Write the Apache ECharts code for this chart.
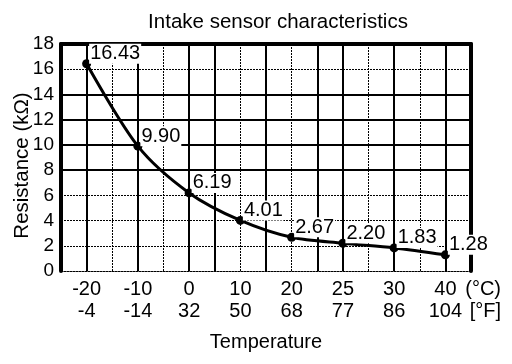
<!DOCTYPE html>
<html>
<head>
<meta charset="utf-8">
<script src="https://cdn.jsdelivr.net/npm/echarts@6/dist/echarts.min.js"></script>
<style>html,body{margin:0;padding:0;background:#fff}#c{width:512px;height:364px}</style>
</head>
<body>
<div id="c"></div>
<script>
const categoriesC = ['-20', '-10', '0', '10', '20', '25', '30', '40'];
const categoriesF = ['-4', '-14', '32', '50', '68', '77', '86', '104'];
const resistance = [16.43, 9.90, 6.19, 4.01, 2.67, 2.20, 1.83, 1.28];
const yMin = 0, yMax = 18, yStep = 2;
// grid line positions in half-category units (0..16) and in kΩ
const solidGridX = [1, 3, 5, 6, 8, 10, 11, 13, 15];
const dottedGridX = [2, 4, 7, 9, 12, 14];
const solidGridY = [8, 10, 12, 14];
const dottedGridY = [2, 4, 6, 16];

const FONT = 'Liberation Sans, Arial, Helvetica, sans-serif';
const dotted = { color: '#000', width: 1, type: [2, 1] };
const solid = { color: '#000', width: 2, type: 'solid' };

const gridLines = []
  .concat(solidGridX.map(v => ({ xAxis: v, lineStyle: solid })))
  .concat(dottedGridX.map(v => ({ xAxis: v, lineStyle: dotted })))
  .concat(solidGridY.map(v => ({ yAxis: v, lineStyle: solid })))
  .concat(dottedGridY.map(v => ({ yAxis: v, lineStyle: dotted })));

const chart = echarts.init(document.getElementById('c'), null, { renderer: 'canvas' });
chart.setOption({
  animation: false,
  backgroundColor: '#fff',
  title: {
    text: 'Intake sensor characteristics',
    left: 273, top: 7, textAlign: 'center',
    textStyle: { fontFamily: FONT, fontSize: 20.5, fontWeight: 'normal', color: '#000' }
  },
  grid: { left: 61, right: 41, top: 44, bottom: 93, containLabel: false, outerBoundsMode: 'none' },
  xAxis: [{
    type: 'category',
    data: categoriesC,
    boundaryGap: true,
    axisLine: { onZero: false, lineStyle: dotted },
    axisTick: { show: false },
    splitLine: { show: false },
    axisLabel: {
      color: '#000', fontFamily: FONT, fontSize: 20, lineHeight: 22, margin: 7,
      formatter: (v, i) => v + '\n' + categoriesF[i]
    },
    name: 'Temperature',
    nameLocation: 'middle',
    nameGap: 61,
    nameMoveOverlap: false,
    nameTextStyle: { color: '#000', fontFamily: FONT, fontSize: 20 }
  }, {
    type: 'value', min: 0, max: 16, position: 'top',
    axisLine: { show: true, onZero: false, lineStyle: { color: '#000', width: 4 } },
    axisTick: { show: false }, axisLabel: { show: false }, splitLine: { show: false }
  }],
  yAxis: [{
    type: 'value', min: yMin, max: yMax, interval: yStep,
    axisLine: { show: true, onZero: false, lineStyle: { color: '#000', width: 4 } },
    axisTick: { show: false },
    splitLine: { show: false },
    axisLabel: { color: '#000', fontFamily: FONT, fontSize: 19, margin: 7 },
    name: 'Resistance (kΩ)',
    nameLocation: 'middle',
    nameGap: 28,
    nameMoveOverlap: false,
    nameRotate: 90,
    nameTextStyle: { color: '#000', fontFamily: FONT, fontSize: 20.5, padding: [0, 16, 0, 0] }
  }, {
    type: 'value', min: yMin, max: yMax, position: 'right',
    axisLine: { show: true, onZero: false, lineStyle: { color: '#000', width: 4 } },
    axisTick: { show: false }, axisLabel: { show: false }, splitLine: { show: false }
  }],
  graphic: [
    { type: 'text', right: 11, top: 279, style: { text: '(°C)', font: '20px ' + FONT, fill: '#000' } },
    { type: 'text', right: 11, top: 301, style: { text: '[°F]', font: '20px ' + FONT, fill: '#000' } }
  ],
  series: [{
    type: 'line',
    xAxisIndex: 1, yAxisIndex: 0,
    data: [],
    silent: true,
    z: 1,
    markLine: { silent: true, symbol: 'none', label: { show: false }, animation: false, data: gridLines }
  }, {
    type: 'line',
    xAxisIndex: 0, yAxisIndex: 0,
    data: resistance,
    smooth: 0.3,
    z: 5,
    symbol: 'circle', symbolSize: 9,
    itemStyle: { color: '#000' },
    lineStyle: { color: '#000', width: 3 },
    label: {
      show: true, position: 'right', distance: 0, offset: [-2, -10],
      color: '#000', fontFamily: FONT, fontSize: 20,
      backgroundColor: '#fff', padding: [0, 1],
      formatter: p => p.value.toFixed(2)
    }
  }]
});
</script>
</body>
</html>
